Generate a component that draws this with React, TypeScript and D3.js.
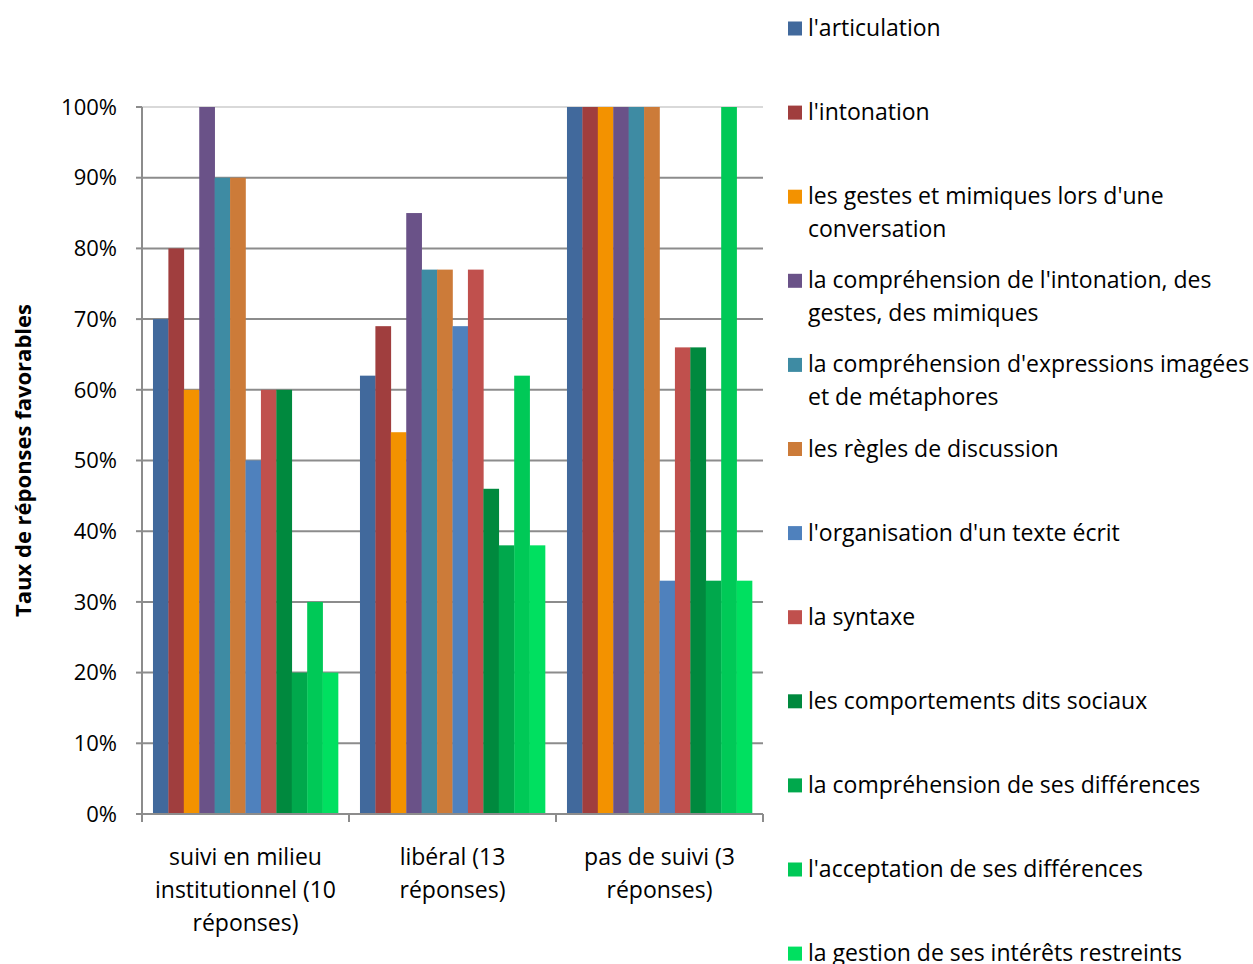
import React, { useEffect, useRef } from "react";
import * as d3 from "d3";

const categories = [
  ["suivi en milieu", "institutionnel (10", "réponses)"],
  ["libéral (13", "réponses)"],
  ["pas de suivi (3", "réponses)"],
];

const seriesNames = [
  ["l'articulation"],
  ["l'intonation"],
  ["les gestes et mimiques lors d'une", "conversation"],
  ["la compréhension de l'intonation, des", "gestes, des mimiques"],
  ["la compréhension d'expressions imagées", "et de métaphores"],
  ["les règles de discussion"],
  ["l'organisation d'un texte écrit"],
  ["la syntaxe"],
  ["les comportements dits sociaux"],
  ["la compréhension de ses différences"],
  ["l'acceptation de ses différences"],
  ["la gestion de ses intérêts restreints"],
];

const colors = [
  "#41699c", "#a03e3e", "#f39200", "#6a5288", "#3e8ba3", "#cc7b39",
  "#4f81bd", "#c0504d", "#00893e", "#00a84c", "#00c957", "#00e060",
];

// values per category (in %), in series order
const valuesInstitutionnel = [70, 80, 60, 100, 90, 90, 50, 60, 60, 20, 30, 20];
const valuesLiberal = [62, 69, 54, 85, 77, 77, 69, 77, 46, 38, 62, 38];
const valuesPasDeSuivi = [100, 100, 100, 100, 100, 100, 33, 66, 66, 33, 100, 33];

const yTicks = [0, 10, 20, 30, 40, 50, 60, 70, 80, 90, 100];

const FONT = "'Open Sans', sans-serif";

export default function App() {
  const ref = useRef<SVGSVGElement>(null);

  useEffect(() => {
    const svg = d3.select(ref.current);
    svg.selectAll("*").remove();

    const W = 1253, H = 964;
    const left = 142, right = 763, top = 107, bottom = 814;
    const data = [valuesInstitutionnel, valuesLiberal, valuesPasDeSuivi];

    const x0 = d3.scaleBand<number>().domain([0, 1, 2]).range([left, right]).paddingInner(0).paddingOuter(0);
    const bw = x0.bandwidth();
    const x1 = d3.scaleBand<number>().domain(d3.range(12)).range([bw * 0.053, bw * 0.947]).padding(0);
    const y = d3.scaleLinear().domain([0, 100]).range([bottom, top]);

    svg.attr("width", W).attr("height", H);

    // gridlines
    svg.append("g").selectAll("line").data(yTicks.filter((t) => t > 0)).join("line")
      .attr("x1", left).attr("x2", right)
      .attr("y1", (d) => y(d)).attr("y2", (d) => y(d))
      .attr("stroke", (d) => (d === 100 ? "#d9d9d9" : "#8c8c8c"))
      .attr("stroke-width", 2);

    // bars
    const g = svg.append("g");
    data.forEach((vals, ci) => {
      g.append("g").selectAll("rect").data(vals).join("rect")
        .attr("x", (_, i) => x0(ci)! + x1(i)!)
        .attr("width", x1.bandwidth() + 0.3)
        .attr("y", (d) => y(d))
        .attr("height", (d) => bottom - y(d))
        .attr("fill", (_, i) => colors[i]);
    });

    // y axis
    svg.append("line").attr("x1", left).attr("x2", left).attr("y1", top).attr("y2", bottom)
      .attr("stroke", "#8c8c8c").attr("stroke-width", 2);
    svg.append("g").selectAll("line").data(yTicks).join("line")
      .attr("x1", left - 6).attr("x2", left).attr("y1", (d) => y(d)).attr("y2", (d) => y(d))
      .attr("stroke", "#8c8c8c").attr("stroke-width", 2);
    svg.append("g").selectAll("text").data(yTicks).join("text")
      .attr("x", 117).attr("y", (d) => y(d)).attr("dy", "0.35em")
      .attr("text-anchor", "end").attr("font-family", FONT).attr("font-size", 22)
      .attr("fill", "#000").text((d) => `${d}%`);

    // x axis
    svg.append("line").attr("x1", left).attr("x2", right).attr("y1", bottom).attr("y2", bottom)
      .attr("stroke", "#8c8c8c").attr("stroke-width", 2);
    svg.append("g").selectAll("line").data([0, 1, 2, 3]).join("line")
      .attr("x1", (d) => left + d * bw).attr("x2", (d) => left + d * bw)
      .attr("y1", bottom).attr("y2", bottom + 8)
      .attr("stroke", "#8c8c8c").attr("stroke-width", 2);

    categories.forEach((lines, ci) => {
      const t = svg.append("text").attr("text-anchor", "middle")
        .attr("font-family", FONT).attr("font-size", 23).attr("fill", "#000");
      lines.forEach((ln, li) => {
        t.append("tspan").attr("x", x0(ci)! + bw / 2).attr("y", 865 + li * 33).text(ln);
      });
    });

    // y title
    svg.append("text")
      .attr("transform", `translate(31, ${(top + bottom) / 2}) rotate(-90)`)
      .attr("text-anchor", "middle").attr("font-family", FONT).attr("font-weight", "bold")
      .attr("font-size", 22).attr("fill", "#000")
      .text("Taux de réponses favorables");

    // legend
    const lg = svg.append("g");
    seriesNames.forEach((lines, i) => {
      const cy = 28 + i * 84.1;
      lg.append("rect").attr("x", 788).attr("y", cy - 6.5).attr("width", 14).attr("height", 14)
        .attr("fill", colors[i]);
      const t = lg.append("text").attr("font-family", FONT).attr("font-size", 23).attr("fill", "#000");
      lines.forEach((ln, li) => {
        t.append("tspan").attr("x", 808).attr("y", cy + 8 + li * 33).text(ln);
      });
    });
  }, []);

  return <svg ref={ref} style={{ position: "absolute", left: 0, top: 0, background: "#fff" }} />;
}
